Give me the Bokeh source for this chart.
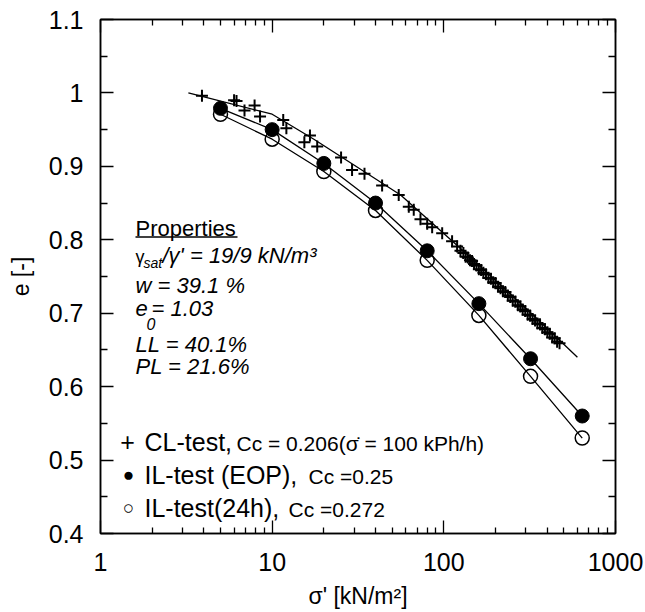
from bokeh.plotting import figure
from bokeh.models import (Range1d, FixedTicker, LogAxis, LinearAxis,
                          CustomJSTickFormatter, Label, BoxAnnotation)
from bokeh.embed import file_html
from bokeh.resources import INLINE

# ---------------- data ----------------
il_stress = [5, 10, 20, 40, 80, 160, 320, 640]
il_eop = [0.979, 0.950, 0.904, 0.850, 0.785, 0.713, 0.638, 0.560]
il_24h = [0.971, 0.937, 0.893, 0.840, 0.772, 0.697, 0.614, 0.530]

cl_stress = [3.9, 6.0, 6.2, 6.9, 7.9, 8.5, 11.6, 12.1, 15.4, 16.6, 18.3, 25.2,
             29.2, 34.5, 43.7, 54.6, 62.5, 66.8, 73.1, 80.0, 85.5, 97.8, 111.7, 119.5,
             125, 130, 134, 138, 142, 146, 150, 155, 160, 165,
             170, 176, 182, 188, 194, 200, 207, 214, 221, 228,
             236, 244, 252, 261, 270, 279, 288, 298, 308, 318,
             329, 340, 351, 363, 375, 388, 401, 414, 428, 442,
             457, 472]
cl_e = [0.996, 0.990, 0.989, 0.976, 0.983, 0.968, 0.963, 0.952, 0.933, 0.942, 0.927, 0.912,
        0.895, 0.890, 0.874, 0.861, 0.845, 0.841, 0.828, 0.822, 0.817, 0.809, 0.798, 0.791,
        0.785, 0.782, 0.777, 0.776, 0.772, 0.771, 0.767, 0.765, 0.760, 0.759,
        0.755, 0.753, 0.748, 0.747, 0.742, 0.741, 0.736, 0.734, 0.730, 0.729,
        0.724, 0.722, 0.717, 0.716, 0.711, 0.709, 0.705, 0.703, 0.698, 0.697,
        0.692, 0.690, 0.686, 0.685, 0.680, 0.678, 0.674, 0.672, 0.667, 0.666,
        0.661, 0.659]

cl_fit_stress = [3.25, 10, 17.5, 56, 137, 330, 600]
cl_fit_e = [1.000, 0.971, 0.937, 0.861, 0.780, 0.698, 0.640]

x_ticks = [1, 10, 100, 1000]
x_minor = [2, 3, 4, 5, 6, 7, 8, 9, 20, 30, 40, 50, 60, 70, 80, 90,
           200, 300, 400, 500, 600, 700, 800, 900]
y_ticks = [0.4, 0.5, 0.6, 0.7, 0.8, 0.9, 1.0, 1.1]
y_minor = [0.45, 0.55, 0.65, 0.75, 0.85, 0.95, 1.05]

FONT = "Liberation Sans"

# ---------------- figure ----------------
p = figure(width=645, height=612, x_axis_type="log",
           x_range=Range1d(1, 1000), y_range=Range1d(0.4, 1.1),
           output_backend="svg", toolbar_location=None,
           min_border_left=100, min_border_right=30,
           min_border_top=19, min_border_bottom=79,
           x_axis_label="σ' [kN/m²]", y_axis_label="e [-]")
p.xgrid.visible = False
p.ygrid.visible = False
p.outline_line_color = "black"
p.outline_line_width = 1.5

xt = FixedTicker(ticks=x_ticks, minor_ticks=x_minor)
yt = FixedTicker(ticks=y_ticks, minor_ticks=y_minor)


def style(ax, major, minor):
    ax.axis_line_color = "black"
    ax.axis_line_width = 1.5
    ax.major_tick_line_color = "black"
    ax.minor_tick_line_color = "black"
    ax.major_tick_line_width = 1.3
    ax.minor_tick_line_width = 1.3
    ax.major_tick_in = major
    ax.major_tick_out = 0
    ax.minor_tick_in = minor
    ax.minor_tick_out = 0
    ax.major_label_text_font = FONT
    ax.major_label_text_color = "black"
    ax.axis_label_text_font = FONT
    ax.axis_label_text_color = "black"
    ax.axis_label_text_font_style = "normal"


xa = p.xaxis[0]
xa.ticker = xt
xa.formatter = CustomJSTickFormatter(code="return String(tick);")
style(xa, 13, 6)
xa.major_label_text_font_size = "25px"
xa.major_label_standoff = 19
xa.axis_label_text_font_size = "23px"
xa.axis_label_standoff = 9

ya = p.yaxis[0]
ya.ticker = yt
ya.formatter = CustomJSTickFormatter(code="return String(Math.round(tick*10)/10);")
style(ya, 13, 7)
ya.major_label_text_font_size = "25px"
ya.major_label_standoff = 17
ya.axis_label_text_font_size = "23px"
ya.axis_label_standoff = 12

# mirrored frame axes (ticks only, labels invisible)
top = LogAxis(ticker=xt)
style(top, 13, 6)
top.major_label_text_font_size = "2px"
top.major_label_text_alpha = 0
top.major_label_standoff = 0
p.add_layout(top, "above")
right = LinearAxis(ticker=yt)
style(right, 13, 7)
right.major_label_text_font_size = "2px"
right.major_label_text_alpha = 0
right.major_label_standoff = 0
p.add_layout(right, "right")

# ---------------- data glyphs ----------------
p.line(cl_fit_stress, cl_fit_e, line_color="black", line_width=1.3)
p.line(il_stress, il_eop, line_color="black", line_width=1.3)
p.line(il_stress, il_24h, line_color="black", line_width=1.3)
p.scatter(cl_stress, cl_e, marker="cross", size=12, line_color="black", line_width=2)
p.scatter(il_stress, il_24h, marker="circle", size=14, fill_color=None,
          line_color="black", line_width=1.5)
p.scatter(il_stress, il_eop, marker="circle", size=14, fill_color="black",
          line_color="black")

# ---------------- annotations (positions in page pixels) ----------------
FL, FT, PX_PER_E = 100.0, 19.0, 514.0 / 0.7


def e_at(py):
    return 1.1 - (py - FT) / PX_PER_E


def lab(text, px, py, size, style="italic", align="left"):
    p.add_layout(Label(x=1, y=e_at(py), x_offset=px - FL, text=text,
                       text_font=FONT, text_font_size=f"{size}px",
                       text_font_style=style, text_color="black",
                       text_align=align, text_baseline="middle"))


# Properties block
lab("Properties", 135, 228, 22, "normal")
p.add_layout(BoxAnnotation(left=10 ** ((135 - FL) / 171.67), right=10 ** ((237 - FL) / 171.67),
                           bottom=e_at(237.2), top=e_at(235.8),
                           fill_color="black", fill_alpha=1, line_color=None))
lab("γ", 135, 256, 18, "normal")
lab("sat", 143, 262, 14, "italic")
lab("/γ' = 19/9 kN/m³", 162, 255, 22)
lab("w = 39.1 %", 135, 285, 22)
lab("e", 135, 308, 22)
lab("0", 146, 323, 16)
lab("= 1.03", 151, 308, 22)
lab("LL = 40.1%", 135, 344, 22)
lab("PL = 21.6%", 135, 366, 22)

# legend block
lab("+", 127, 441, 25, "normal", "center")
lab("CL-test,", 144, 441, 25, "normal")
lab("Cc = 0.206(σ\u0307 = 100 kPh/h)", 236, 443, 21, "normal")
lab("●", 128, 474, 19, "normal", "center")
lab("IL-test (EOP),", 144, 474, 25, "normal")
lab("Cc =0.25", 308, 476, 21, "normal")
lab("○", 128, 507, 19, "normal", "center")
lab("IL-test(24h),", 144, 507, 25, "normal")
lab("Cc =0.272", 288, 509, 21, "normal")

open("out.html", "w").write(file_html(p, INLINE))
